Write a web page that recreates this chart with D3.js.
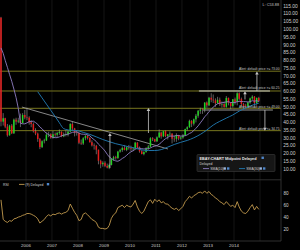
<!DOCTYPE html>
<html><head><meta charset="utf-8">
<script src="https://cdn.jsdelivr.net/npm/d3@7"></script>
<style>
html,body{margin:0;padding:0;background:#000;}
svg{display:block;}
text{font-family:"Liberation Sans",Arial,sans-serif;}
</style></head><body>
<svg id="c" width="300" height="250"></svg>
<script>
// ---- data (monthly, Jan 2005 .. Dec 2014) ----
const openP = [107.5,40.5,42.7,37.3,31.7,38,33,41.8,40.5,41.2,39.6,44.8,
 43.2,43.1,40.1,39,34.4,32.8,29.3,24.1,27.9,28.4,32.1,32.4,
 30.1,32.4,32.1,33.2,33.9,31,32.2,32.4,34.1,39,36.1,33.5,
 33.2,26.9,26.4,29.8,31.3,30,27.3,25.2,24.9,22.4,15.3,13.1,
 14,12,10.9,12.6,16.5,17.6,17.1,21.2,22.2,23.6,22.3,24,
 23.5,23,23.1,27,23.8,21.4,19.6,20.9,23.3,24.4,29.8,29.2,
 27.8,30.4,33.5,31,34.4,31.2,32.3,32.8,29.5,29.4,31.8,29.6,
 30.3,31.6,35.7,36.9,41,39.2,42,44.3,47.5,48.4,48.3,52.8,
 51,55.9,54.7,54.2,52.4,54.6,51.7,51.8,50,55.8,52.7,50.5,
 54.9,53.2,58.8,55.2,51.8,50.7,50.1,52.8,55.5,56.6,52.5,55.8];
const highP = [108,46,43,39,38.5,39,42.5,43,43,45.7,46,48,
 49.5,44,41.5,40,36.3,33.5,30,28.5,29.5,33.5,34,33,
 34.5,33.5,34,35.5,34.3,33.5,35,35,39.5,40.5,36.5,35,
 33.5,29,30.5,31.8,32,30.5,28.5,26.5,25.5,22.5,16,15,
 15,13.5,13.5,16.8,18.5,18.5,21.7,23,24.5,25.5,24.5,25.5,
 25,24,27.5,27.3,24.5,22.5,21.5,24,25.5,30.5,30.5,29.5,
 31,35.5,34,34.5,34.8,32.5,34.2,33,31.5,33,32,31,
 32.5,36,37.5,41.8,41.5,42.5,45.5,48,49.5,49,53,53.5,
 56.5,58.8,58,55.5,56.5,56,53.5,53.5,57,56,53,55,
 56,59.5,59.5,56,52.5,52,53.5,56,57.5,57,56,56.5];
const lowP = [37.5,38,36.3,30.8,31.5,32.5,32.6,38.5,39.5,37,39.5,42,
 41.5,38.5,36.9,33.5,31.8,27.5,22.8,23.5,26.5,28,30.5,29.5,
 29.5,30.5,30.5,32,30.5,30.5,31,31,33.5,34.5,31,31.5,
 26,25.5,25.5,28.5,29,27,24.5,22.5,19.5,13,10.5,11.5,
 11.2,10.4,9.9,12.3,15.2,16,16.5,20.5,21,22,21.5,22.5,
 21.5,21.5,22.8,23.5,20.5,19.5,18.8,20.5,22.5,24,28,27.3,
 27.5,30,29.5,30.5,30.5,29,31,26.5,27.5,27.5,28.5,28.8,
 29.5,31.3,34.8,36.5,37,38,40,43,45.5,45.5,46.5,49.5,
 50.5,53,52.5,50,52,50.5,49.5,49.5,49.5,51,48.5,49.5,
 51.5,51,54,50,48.5,49,49.5,52,54.5,49.5,51.5,53.2];
const closeP = [40.5,42.7,37.3,31.7,38,33,41.8,40.5,41.2,39.6,44.8,43.2,
 43.1,40.1,39,34.4,32.8,29.3,24.1,27.9,28.4,32.1,32.4,30.1,
 32.4,32.1,33.2,33.9,31,32.2,32.4,34.1,39,36.1,33.5,33.2,
 26.9,26.4,29.8,31.3,30,27.3,25.2,24.9,22.4,15.3,13.1,14,
 12,10.9,12.6,16.5,17.6,17.1,21.2,22.2,23.6,22.3,24,23.5,
 23,23.1,27,23.8,21.4,19.6,20.9,23.3,24.4,29.8,29.2,27.8,
 30.4,33.5,31,34.4,31.2,32.3,32.8,29.5,29.4,31.8,29.6,30.3,
 31.6,35.7,36.9,41,39.2,42,44.3,47.5,48.4,48.3,52.8,51,
 55.9,54.7,54.2,52.4,54.6,51.7,51.8,50,55.8,52.7,50.5,54.9,
 53.2,58.8,55.2,51.8,50.7,50.1,52.8,55.5,56.6,52.5,55.8,53.9];
const sma10 = [88,84.5,80,75.5,71,66.5,61.5,56,49,39.5,39.1,39.1,
 39.7,40.5,40.6,40.8,39.9,38.8,37,35.9,34.2,33.1,32.1,31.1,
 30.4,30.2,30.2,30.7,31.4,31.8,32.2,32.4,33,33.6,33.8,33.9,
 33.2,32.5,32.4,32.3,32,31.4,30,28.9,27.7,26,24.6,23.3,
 21.6,19.5,17.8,16.7,15.9,15.2,15,15.7,16.8,17.6,18.8,20.1,
 21.1,21.8,22.7,23.4,23.4,23.1,22.9,23,23,23.6,24.3,24.7,
 25.1,26,27,28.5,29.5,30.4,31.2,31.2,31.2,31.6,31.6,31.2,
 31.3,31.4,32,32.9,33.5,34.8,36.2,37.8,39.7,41.5,43.6,45.1,
 47,48.4,49.9,51,52,52.4,52.7,52.9,53.2,53.4,52.8,52.9,
 52.8,53.4,53.5,53.5,53.4,53.4,53.1,53.4,54,53.7,54,53.5];
const sma30Month = [17,19,21,23,25,27,29,32,35,38,41,44,47,50,53,56,59,62,65,68,71,74,77,80,83,86,89,92,95,98,101,104,107,110,113,116,119];
const sma30 = [59.8,55.8,51.8,47.8,43.8,39.8,36,35,34.8,33.6,32.3,30.7,29,27.6,26.3,25.3,24.3,23.4,22.3,21.9,21.9,22.5,24.1,25.8,27.2,28.4,30.1,32.3,35.1,38.3,40.7,42.8,44.8,47.3,49.3,51.1,52.4];
const rsi9 = [69,36,33,31,34,33,37,38,40,41,43,44,
 46,46,45,43,41,37,30,33,36,41,44,42,
 45,44,46,47,45,47,48,51,62,55,48,43,
 34,36,45,47,44,40,36,34,31,23,21,21,
 20,21,26,38,44,47,56,58,60,56,60,58,
 57,62,68,57,50,46,50,58,66,69,63,70,
 66,69,64,66,62,62,58,55,53,55,51,54,
 58,66,70,75,72,76,78,81,82,80,84,80,
 83,78,76,72,70,66,64,61,66,62,58,60,
 56,66,57,50,47,46,50,56,61,52,58,53];
const priceTicks = [115,110,105,100,95,90,85,80,75,70,65,60,55,50,45,40,35,30,25,20,15,10];
const rsiTicks = [80,60,40,20];
const yearLabels = ["2006","2007","2008","2009","2010","2011","2012","2013","2014"];
const alertPrices = [73, 60.25, 49.1, 34.7];
const alertTexts = ["Alert: default price >= 73.00","Alert: default price >= 60.25","Alert: default price <= 49.00","Alert: default price <= 34.75"];
const trendDates = ["2005-11-05","2011-06-18"];
const trendPrices = [49.9, 22.9];
const boxTopDates = ["2012-08-26","2015-05-21"];
const boxTopPrice = 60.25;
const boxBotDates = ["2012-10-22","2015-07-01"];
const boxBotPrice = 48;
const arrowDates = ["2009-03-25","2010-09-17","2014-06-04","2014-11-19","2015-03-11"];
const arrowFrom = [10.6, 33.2, 54.8, 60.25, 48];
const arrowTo = [33.2, 49.3, 60.1, 72.8, 34.7];
const lastLabel = "L: C53.88";

// ---- scales ----
const parse = d3.timeParse("%Y-%m-%d");
const months = d3.timeMonth.range(new Date(2005,0,1), new Date(2015,0,1));
const mid = d => d3.timeDay.offset(d, 14);
const x = d3.scaleTime().domain([new Date(2005,0,1), new Date(2015,9,23)]).range([0,281]);
const yP = d3.scaleLinear().domain([10,115]).range([169,6]);
const yR = d3.scaleLinear().domain([20,80]).range([229,193.3]);

const svg = d3.select("#c");
svg.append("rect").attr("width",300).attr("height",250).attr("fill","#000");
const defs = svg.append("defs");
defs.append("clipPath").attr("id","cm").append("rect").attr("x",0).attr("y",0).attr("width",281).attr("height",179.5);
defs.append("clipPath").attr("id","cr").append("rect").attr("x",0).attr("y",181).attr("width",281).attr("height",60);

// grid
const years = d3.timeYear.range(new Date(2006,0,1), new Date(2016,0,1));
svg.append("g").selectAll("line").data(years).join("line")
  .attr("x1",d=>x(d)).attr("x2",d=>x(d)).attr("y1",0).attr("y2",241)
  .attr("stroke","#1b1b1b").attr("stroke-width",0.8);

const main = svg.append("g").attr("clip-path","url(#cm)");

// alert lines
main.append("g").selectAll("line").data(alertPrices).join("line")
  .attr("x1",0).attr("x2",281).attr("y1",d=>yP(d)).attr("y2",d=>yP(d))
  .attr("stroke","#77761f").attr("stroke-width",1);

// trendline
main.append("line")
  .attr("x1",x(parse(trendDates[0]))).attr("y1",yP(trendPrices[0]))
  .attr("x2",x(parse(trendDates[1]))).attr("y2",yP(trendPrices[1]))
  .attr("stroke","#a8a8a8").attr("stroke-width",0.8);
main.append("line")
  .attr("x1",x(parse(boxTopDates[0]))).attr("x2",x(parse(boxTopDates[1])))
  .attr("y1",yP(boxTopPrice)).attr("y2",yP(boxTopPrice))
  .attr("stroke","#d8d8d8").attr("stroke-width",0.9);
main.append("line")
  .attr("x1",x(parse(boxBotDates[0]))).attr("x2",x(parse(boxBotDates[1])))
  .attr("y1",yP(boxBotPrice)).attr("y2",yP(boxBotPrice))
  .attr("stroke","#bdbdbd").attr("stroke-width",0.8);

// candles
const idx = d3.range(months.length);
const cw = 1.5;
main.append("g").selectAll("line").data(idx).join("line")
  .attr("x1",i=>x(mid(months[i]))).attr("x2",i=>x(mid(months[i])))
  .attr("y1",i=>yP(highP[i])).attr("y2",i=>yP(lowP[i]))
  .attr("stroke","#9a9a9a").attr("stroke-width",0.6);
main.append("g").selectAll("rect").data(idx).join("rect")
  .attr("x",i=>x(mid(months[i]))-cw/2).attr("width",cw)
  .attr("y",i=>yP(Math.max(openP[i],closeP[i])))
  .attr("height",i=>Math.max(0.6, Math.abs(yP(openP[i])-yP(closeP[i]))))
  .attr("fill",i=>closeP[i]>=openP[i]?"#22d422":"#e41b1b");

// SMAs
const l10 = d3.line().x((d,i)=>x(mid(months[i]))).y(d=>yP(d));
main.append("path").attr("d",l10(sma10)).attr("fill","none").attr("stroke","#8f7ec2").attr("stroke-width",0.9);
const l30 = d3.line().curve(d3.curveMonotoneX).x((d,i)=>x(mid(months[sma30Month[i]]))).y(d=>yP(d));
main.append("path").attr("d",l30(sma30)).attr("fill","none").attr("stroke","#1f72a6").attr("stroke-width",1);

// arrows
const ag = main.append("g");
arrowDates.forEach((d,i)=>{
  const ax = x(parse(d)), y0 = yP(arrowFrom[i]), y1 = yP(arrowTo[i]);
  const dir = y1 < y0 ? 1 : -1;
  ag.append("line").attr("x1",ax).attr("x2",ax).attr("y1",y0).attr("y2",y1+dir*2.5)
    .attr("stroke","#c4c4c4").attr("stroke-width",0.8);
  ag.append("path").attr("d",`M${ax},${y1} L${ax-1.8},${y1+dir*3} L${ax+1.8},${y1+dir*3} Z`)
    .attr("fill","#c4c4c4");
});

// alert texts
main.append("g").selectAll("text").data(alertPrices).join("text")
  .attr("x",239).attr("y",(d,i)=>yP(d)-(i<2?1.6:0.6))
  .attr("font-size",3.3).attr("fill","#c8c8c8")
  .text((d,i)=>alertTexts[i]);

// legend box
const lg = svg.append("g");
lg.append("rect").attr("x",197).attr("y",154.5).attr("width",78).attr("height",17)
  .attr("fill","#161616").attr("stroke","#3c3c3c").attr("stroke-width",0.6).attr("rx",1);
lg.append("text").attr("x",199.5).attr("y",159.6).attr("font-size",3.8).attr("font-weight","bold").attr("fill","#e8e8e8").text("EBAY:CHART Midpoint Delayed");
lg.append("rect").attr("x",261.5).attr("y",156.6).attr("width",2.4).attr("height",2.4).attr("fill","#4f86c9");
lg.append("text").attr("x",199.5).attr("y",164.6).attr("font-size",3.5).attr("fill","#d0d0d0").text("Delayed");
lg.append("line").attr("x1",203).attr("x2",209).attr("y1",168.6).attr("y2",168.6).attr("stroke","#8f7ec2").attr("stroke-width",0.9);
lg.append("text").attr("x",210.3).attr("y",169.8).attr("font-size",3.4).attr("fill","#d0d0d0").text("SMA(10)");
lg.append("rect").attr("x",223.5).attr("y",167.3).attr("width",2.4).attr("height",2.4).attr("fill","#9bb6de");
lg.append("rect").attr("x",227).attr("y",167.3).attr("width",2.4).attr("height",2.4).attr("fill","#4f86c9");
lg.append("line").attr("x1",239).attr("x2",245).attr("y1",168.6).attr("y2",168.6).attr("stroke","#1f72a6").attr("stroke-width",1);
lg.append("text").attr("x",246.3).attr("y",169.8).attr("font-size",3.4).attr("fill","#d0d0d0").text("SMA(30)");
lg.append("rect").attr("x",259.5).attr("y",167.3).attr("width",2.4).attr("height",2.4).attr("fill","#9bb6de");
lg.append("rect").attr("x",263).attr("y",167.3).attr("width",2.4).attr("height",2.4).attr("fill","#4f86c9");

// frame lines
svg.append("line").attr("x1",0).attr("x2",281).attr("y1",179.8).attr("y2",179.8).attr("stroke","#3a3a3a").attr("stroke-width",0.8);
svg.append("line").attr("x1",0).attr("x2",281).attr("y1",241).attr("y2",241).attr("stroke","#3a3a3a").attr("stroke-width",0.8);
svg.append("line").attr("x1",281).attr("x2",281).attr("y1",0).attr("y2",241).attr("stroke","#3a3a3a").attr("stroke-width",0.8);

// price axis labels
svg.append("g").selectAll("text").data(priceTicks).join("text")
  .attr("x",283.2).attr("y",d=>yP(d)).attr("dy","0.35em")
  .attr("font-size",4.9).attr("fill","#cfcfcf").text(d=>d3.format(".2f")(d));
svg.append("text").attr("x",279).attr("y",5.5).attr("text-anchor","end").attr("font-size",3.8).attr("fill","#c8c8c8").text(lastLabel);

// RSI panel
const rg = svg.append("g").attr("clip-path","url(#cr)");
const lr = d3.line().x((d,i)=>x(mid(months[i]))).y(d=>yR(d));
rg.append("path").attr("d",lr(rsi9)).attr("fill","none").attr("stroke","#c29a4e").attr("stroke-width",0.9);
svg.append("g").selectAll("text").data(rsiTicks).join("text")
  .attr("x",283.5).attr("y",d=>yR(d)).attr("dy","0.35em")
  .attr("font-size",4.6).attr("fill","#cfcfcf").text(d=>d);
svg.append("text").attr("x",3).attr("y",185.6).attr("font-size",3.5).attr("fill","#cfcfcf").text("RSI");
svg.append("line").attr("x1",19).attr("x2",24.5).attr("y1",184.4).attr("y2",184.4).attr("stroke","#c29a4e").attr("stroke-width",0.9);
svg.append("text").attr("x",25.3).attr("y",185.6).attr("font-size",3.5).attr("fill","#cfcfcf").text("(9) Delayed");
svg.append("rect").attr("x",46.8).attr("y",183).attr("width",2.4).attr("height",2.4).attr("fill","#4f86c9");

// x-axis labels
svg.append("g").selectAll("text").data(yearLabels).join("text")
  .attr("x",(d)=>x(new Date(+d,0,1))).attr("y",246.8).attr("text-anchor","middle")
  .attr("font-size",4.4).attr("fill","#cfcfcf").text(d=>d);
</script>
</body></html>
